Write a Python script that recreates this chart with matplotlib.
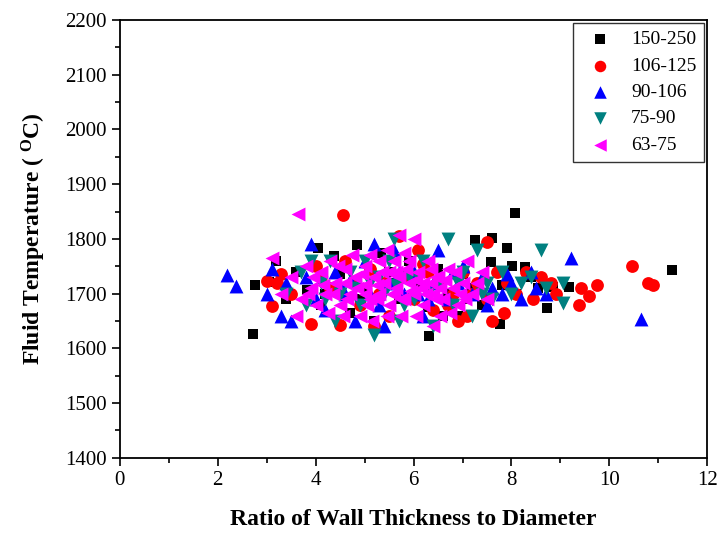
import matplotlib
matplotlib.use("Agg")
import matplotlib.pyplot as plt
from matplotlib.ticker import MultipleLocator

plt.rcParams['font.family'] = ['Liberation Serif', 'DejaVu Serif']
plt.rcParams['mathtext.fontset'] = 'custom'
plt.rcParams['mathtext.rm'] = 'Liberation Serif:bold'
plt.rcParams['mathtext.it'] = 'Liberation Serif:bold'

series_labels = ['150-250', '106-125', '90-106', '75-90', '63-75']

black_x = [2.71, 2.75, 3.19, 3.05, 3.40, 3.82, 4.05, 4.37, 4.84, 5.33, 4.20, 4.50, 4.70, 5.00, 5.20, 5.50, 5.70, 5.90, 6.10, 6.32,
           6.30, 6.50, 6.70, 6.90, 7.00, 7.26, 7.20, 7.40, 7.59, 7.61, 7.77, 7.80, 7.91, 8.01, 8.28, 8.10, 8.40, 8.55, 8.72, 8.85,
           9.17, 11.29, 8.07, 6.00, 5.60, 4.90, 3.60, 4.10, 6.60, 7.10]
black_y = [1627, 1716, 1760, 1722, 1690, 1707, 1783, 1769, 1789, 1774, 1700, 1735, 1665, 1710, 1650, 1740, 1690, 1760, 1720, 1623,
           1675, 1745, 1700, 1660, 1735, 1798, 1710, 1680, 1758, 1802, 1645, 1715, 1784, 1751, 1749, 1700, 1730, 1710, 1674, 1713,
           1712, 1743, 1847, 1690, 1720, 1690, 1740, 1680, 1660, 1690]

red_x = [3.01, 3.11, 3.30, 3.50, 3.90, 4.56, 4.00, 4.30, 4.50, 4.60, 4.80, 4.90, 5.10, 5.30, 5.50, 5.70, 5.80, 6.00, 6.20, 6.40,
         6.50, 6.80, 7.00, 7.10, 7.30, 7.50, 7.50, 7.60, 7.70, 7.85, 7.90, 8.10, 8.30, 8.45, 8.60, 8.80, 9.38, 9.42, 9.58, 9.74,
         10.47, 10.80, 10.90, 3.20, 5.20, 6.90, 8.90, 6.10, 5.40, 6.30, 6.70, 4.10, 7.20]
red_y = [1724, 1678, 1735, 1700, 1645, 1843, 1750, 1710, 1642, 1760, 1720, 1680, 1745, 1700, 1660, 1805, 1730, 1690, 1755, 1670,
         1720, 1700, 1740, 1660, 1720, 1795, 1690, 1650, 1740, 1665, 1720, 1700, 1740, 1690, 1730, 1720, 1680, 1711, 1696, 1716,
         1751, 1720, 1716, 1720, 1640, 1650, 1700, 1780, 1720, 1740, 1680, 1730, 1700]

blue_x = [2.18, 2.38, 3.00, 3.30, 3.40, 3.50, 3.80, 3.90, 4.00, 4.20, 4.40, 4.60, 4.80, 5.00, 5.20, 5.30, 5.50, 5.60, 5.80, 6.00,
          6.20, 6.40, 6.50, 6.70, 6.90, 7.00, 7.20, 7.40, 7.60, 7.80, 8.00, 8.20, 8.40, 8.50, 9.21, 10.64, 3.10, 4.70, 5.40, 6.10,
          7.90, 8.70, 4.50, 5.10, 5.70, 6.30, 6.80, 7.50]
blue_y = [1734, 1714, 1700, 1660, 1720, 1650, 1730, 1791, 1690, 1670, 1740, 1700, 1650, 1760, 1790, 1680, 1720, 1780, 1700, 1740,
          1660, 1720, 1780, 1690, 1720, 1750, 1700, 1730, 1710, 1700, 1720, 1690, 1740, 1710, 1765, 1654, 1745, 1725, 1640, 1700,
          1735, 1700, 1715, 1700, 1740, 1690, 1740, 1680]

teal_x = [3.40, 3.70, 3.80, 4.10, 4.30, 4.50, 4.70, 4.90, 5.10, 5.20, 5.40, 5.50, 5.60, 5.70, 5.90, 6.00, 6.20, 6.40, 6.50, 6.70,
          6.80, 7.00, 7.20, 7.30, 7.50, 7.60, 7.80, 8.00, 8.20, 8.40, 8.60, 8.70, 9.05, 9.05, 5.00, 6.10, 4.40, 3.90,
          4.80, 5.30, 5.80, 6.30, 6.90, 7.40, 4.20, 5.65]
teal_y = [1700, 1740, 1680, 1720, 1760, 1700, 1740, 1680, 1720, 1625, 1700, 1760, 1800, 1650, 1730, 1690, 1760, 1640, 1715, 1800,
          1680, 1740, 1660, 1780, 1720, 1690, 1740, 1700, 1720, 1730, 1780, 1710, 1720, 1683, 1760, 1730, 1650, 1760,
          1710, 1730, 1680, 1700, 1720, 1700, 1690, 1715]

mag_x = [3.10, 3.30, 3.64, 3.50, 3.60, 3.80, 3.90, 4.00, 4.10, 4.20, 4.30, 4.40, 4.50, 4.60, 4.70, 4.80, 4.90, 5.00, 5.00, 5.10,
         5.20, 5.30, 5.30, 5.40, 5.50, 5.50, 5.60, 5.70, 5.70, 5.80, 5.90, 5.90, 6.00, 6.00, 6.10, 6.20, 6.20, 6.30, 6.40, 6.40,
         6.50, 6.60, 6.70, 6.80, 6.90, 7.00, 7.10, 7.20, 7.40, 7.50, 4.55, 5.15, 5.75, 6.55, 4.75, 5.45, 6.45, 5.05, 5.85, 6.15,
         4.35, 3.70, 3.95, 7.30, 4.85, 5.65, 6.35,
         4.15, 4.45, 4.65, 4.95, 5.25, 5.35, 5.55, 5.60, 5.75, 5.95, 6.05, 6.25, 6.35, 6.55, 6.65, 6.85, 6.95, 7.05, 5.10, 5.80,
         6.75, 4.25, 3.85, 5.45, 6.05, 5.25, 4.60, 5.00, 5.65, 6.45]
mag_y = [1765, 1700, 1846, 1730, 1660, 1750, 1710, 1680, 1740, 1700, 1760, 1720, 1680, 1745, 1700, 1730, 1660, 1715, 1750, 1690,
         1730, 1700, 1760, 1720, 1680, 1740, 1700, 1730, 1808, 1690, 1720, 1760, 1700, 1800, 1740, 1680, 1720, 1760, 1700, 1640,
         1730, 1690, 1745, 1710, 1680, 1720, 1760, 1700, 1740, 1690, 1660, 1650, 1660, 1660, 1770, 1780, 1690, 1680, 1745, 1710,
         1700, 1690, 1730, 1720, 1710, 1710, 1720,
         1715, 1750, 1690, 1735, 1715, 1740, 1700, 1760, 1690, 1705, 1725, 1700, 1745, 1710, 1725, 1740, 1700, 1690, 1770, 1775,
         1665, 1665, 1700, 1660, 1660, 1690, 1720, 1700, 1740, 1730]

fig = plt.figure(figsize=(7.18, 5.33), dpi=100)
ax = fig.add_axes([0.167, 0.141, 0.818, 0.8215])

ax.scatter(black_x, black_y, marker='s', s=62, c='black', label=series_labels[0], linewidths=0)
ax.scatter(red_x, red_y, marker='o', s=85, c='red', label=series_labels[1], linewidths=0)
ax.scatter(blue_x, blue_y, marker='^', s=100, c='blue', label=series_labels[2], linewidths=0)
ax.scatter(teal_x, teal_y, marker='v', s=100, c='#008080', label=series_labels[3], linewidths=0)
ax.scatter(mag_x, mag_y, marker='<', s=100, c='magenta', label=series_labels[4], linewidths=0)

ax.set_xlim(0, 12)
ax.set_ylim(1400, 2200)
ax.xaxis.set_major_locator(MultipleLocator(2))
ax.xaxis.set_minor_locator(MultipleLocator(1))
ax.yaxis.set_major_locator(MultipleLocator(100))
ax.yaxis.set_minor_locator(MultipleLocator(50))
ax.tick_params(which='both', direction='out', top=False, right=False, labelsize=15, width=1.2)
ax.tick_params(which='major', length=6)
ax.tick_params(which='minor', length=3.5)
for sp in ax.spines.values():
    sp.set_linewidth(1.3)

ax.set_xlabel('Ratio of Wall Thickness to Diameter', fontsize=17, fontweight='bold', labelpad=14)
ax.set_ylabel(r'Fluid Temperature ( $^{\mathrm{O}}$C)', fontsize=17, fontweight='bold', labelpad=12)

leg = ax.legend(loc='upper right', fontsize=14, frameon=True, fancybox=False, edgecolor='black',
                handletextpad=0.6, borderaxespad=0.15, markerscale=0.9, scatterpoints=1, labelspacing=0.45)
leg.get_frame().set_linewidth(1.0)

fig.savefig('out.png', dpi=100)
